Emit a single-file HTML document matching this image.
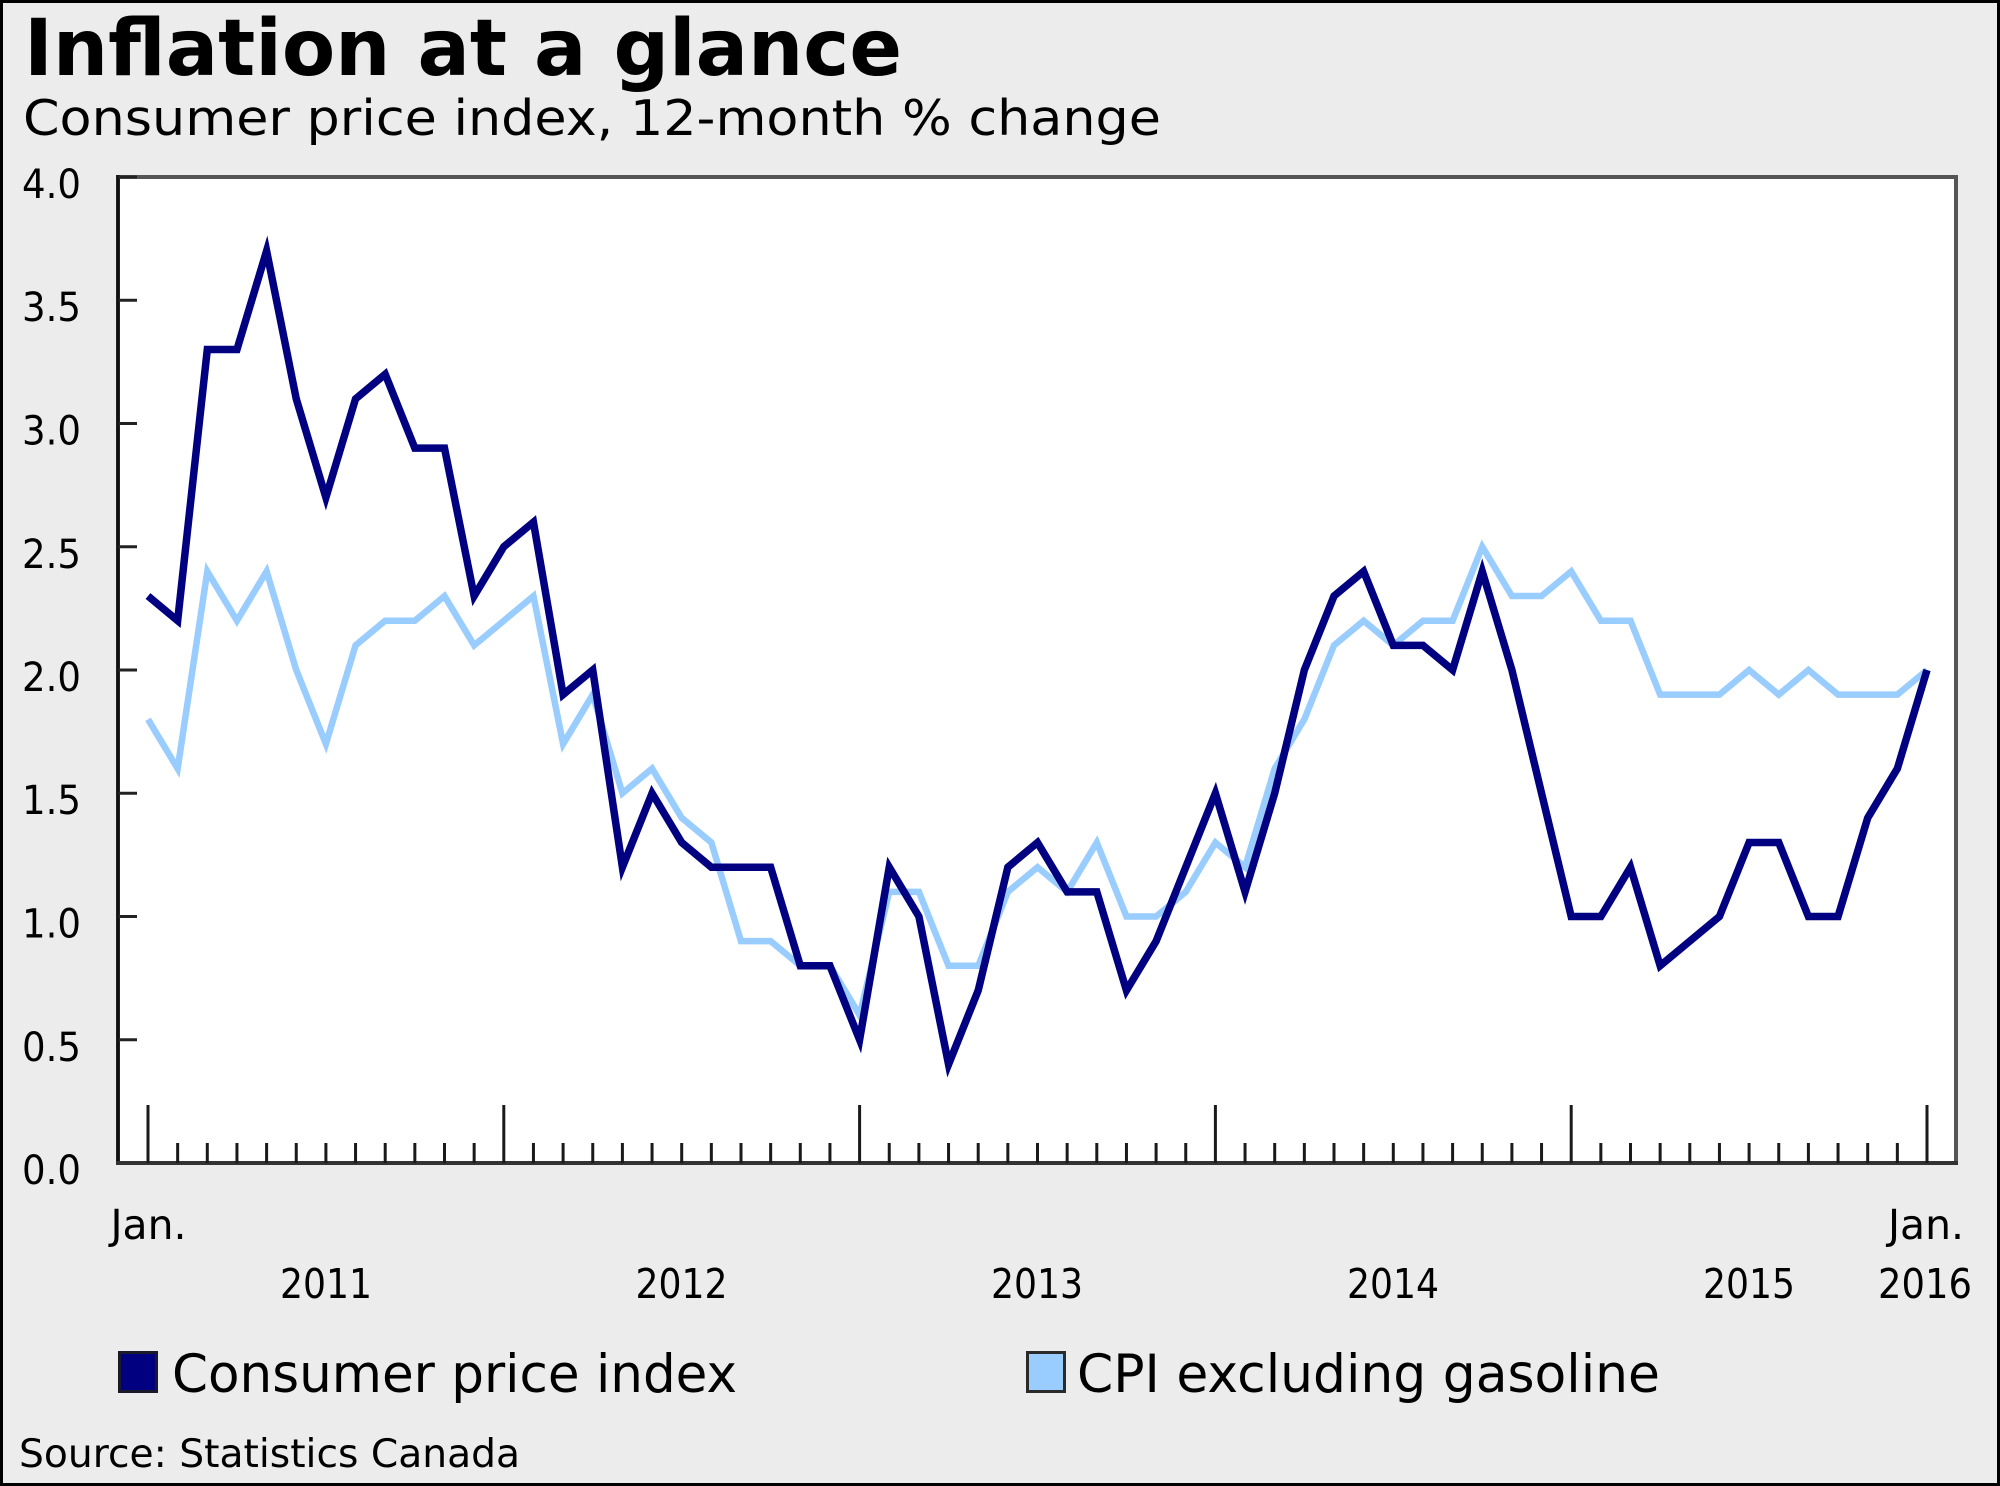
<!DOCTYPE html>
<html>
<head>
<meta charset="utf-8">
<style>
  html, body { margin: 0; padding: 0; background: #ececec; }
  svg { display: block; }
  text { font-family: "DejaVu Sans", "Liberation Sans", sans-serif; fill: #000; }
</style>
</head>
<body>
<svg width="2000" height="1486" viewBox="0 0 2000 1486" xmlns="http://www.w3.org/2000/svg">
  <!-- outer border + background -->
  <rect x="0" y="0" width="2000" height="1486" fill="#000"/>
  <rect x="3" y="3" width="1994" height="1480" fill="#ececec"/>

  <!-- titles -->
  <text x="24" y="75" font-size="78" font-weight="bold" textLength="878" lengthAdjust="spacingAndGlyphs">Inflation at a glance</text>
  <text x="23" y="135" font-size="49" textLength="1138" lengthAdjust="spacingAndGlyphs">Consumer price index, 12-month % change</text>

  <!-- plot area -->
  <rect x="118" y="177" width="1838" height="986" fill="#fff" stroke="#555" stroke-width="4"/>
  <line x1="118" y1="175" x2="118" y2="1165" stroke="#111" stroke-width="3.5"/>
  <line x1="116" y1="1163" x2="1958" y2="1163" stroke="#333" stroke-width="4"/>

  <!-- y ticks -->
  <g stroke="#222" stroke-width="3">
    <line x1="118" y1="177" x2="137" y2="177"/>
    <line x1="118" y1="300.25" x2="137" y2="300.25"/>
    <line x1="118" y1="423.5" x2="137" y2="423.5"/>
    <line x1="118" y1="546.75" x2="137" y2="546.75"/>
    <line x1="118" y1="670" x2="137" y2="670"/>
    <line x1="118" y1="793.25" x2="137" y2="793.25"/>
    <line x1="118" y1="916.5" x2="137" y2="916.5"/>
    <line x1="118" y1="1039.75" x2="137" y2="1039.75"/>
  </g>

  <!-- y labels -->
  <g font-size="40">
    <text x="22" y="198" textLength="59" lengthAdjust="spacingAndGlyphs">4.0</text>
    <text x="22" y="321" textLength="59" lengthAdjust="spacingAndGlyphs">3.5</text>
    <text x="22" y="444.5" textLength="59" lengthAdjust="spacingAndGlyphs">3.0</text>
    <text x="22" y="568" textLength="59" lengthAdjust="spacingAndGlyphs">2.5</text>
    <text x="22" y="691" textLength="59" lengthAdjust="spacingAndGlyphs">2.0</text>
    <text x="22" y="814" textLength="59" lengthAdjust="spacingAndGlyphs">1.5</text>
    <text x="22" y="937.5" textLength="59" lengthAdjust="spacingAndGlyphs">1.0</text>
    <text x="22" y="1061" textLength="59" lengthAdjust="spacingAndGlyphs">0.5</text>
    <text x="22" y="1184" textLength="59" lengthAdjust="spacingAndGlyphs">0.0</text>
  </g>

  <!-- x ticks -->
  <g stroke="#1a1a1a" stroke-width="3">
    <line x1="148" y1="1105" x2="148" y2="1163"/>
    <line x1="503.8" y1="1105" x2="503.8" y2="1163"/>
    <line x1="859.6" y1="1105" x2="859.6" y2="1163"/>
    <line x1="1215.4" y1="1105" x2="1215.4" y2="1163"/>
    <line x1="1571.2" y1="1105" x2="1571.2" y2="1163"/>
    <line x1="1927" y1="1105" x2="1927" y2="1163"/>
  </g>
  <g stroke="#1a1a1a" stroke-width="3" transform="translate(148,0)">
    <path d="M29.65 1143V1163M59.3 1143V1163M88.95 1143V1163M118.6 1143V1163M148.25 1143V1163M177.9 1143V1163M207.55 1143V1163M237.2 1143V1163M266.85 1143V1163M296.5 1143V1163M326.15 1143V1163
             M385.45 1143V1163M415.1 1143V1163M444.75 1143V1163M474.4 1143V1163M504.05 1143V1163M533.7 1143V1163M563.35 1143V1163M593 1143V1163M622.65 1143V1163M652.3 1143V1163M681.95 1143V1163
             M741.25 1143V1163M770.9 1143V1163M800.55 1143V1163M830.2 1143V1163M859.85 1143V1163M889.5 1143V1163M919.15 1143V1163M948.8 1143V1163M978.45 1143V1163M1008.1 1143V1163M1037.75 1143V1163
             M1097.05 1143V1163M1126.7 1143V1163M1156.35 1143V1163M1186 1143V1163M1215.65 1143V1163M1245.3 1143V1163M1274.95 1143V1163M1304.6 1143V1163M1334.25 1143V1163M1363.9 1143V1163M1393.55 1143V1163
             M1452.85 1143V1163M1482.5 1143V1163M1512.15 1143V1163M1541.8 1143V1163M1571.45 1143V1163M1601.1 1143V1163M1630.75 1143V1163M1660.4 1143V1163M1690.05 1143V1163M1719.7 1143V1163M1749.35 1143V1163"/>
  </g>

  <!-- series -->
  <g transform="translate(148,1163) scale(29.65,-246.5)">
    <polyline fill="none" stroke="#99ccff" stroke-width="6.5" vector-effect="non-scaling-stroke" stroke-linejoin="miter" stroke-miterlimit="10"
      points="0,1.8 1,1.6 2,2.4 3,2.2 4,2.4 5,2.0 6,1.7 7,2.1 8,2.2 9,2.2 10,2.3 11,2.1 12,2.2 13,2.3 14,1.7 15,1.9 16,1.5 17,1.6 18,1.4 19,1.3 20,0.9 21,0.9 22,0.8 23,0.8 24,0.6 25,1.1 26,1.1 27,0.8 28,0.8 29,1.1 30,1.2 31,1.1 32,1.3 33,1.0 34,1.0 35,1.1 36,1.3 37,1.2 38,1.6 39,1.8 40,2.1 41,2.2 42,2.1 43,2.2 44,2.2 45,2.5 46,2.3 47,2.3 48,2.4 49,2.2 50,2.2 51,1.9 52,1.9 53,1.9 54,2.0 55,1.9 56,2.0 57,1.9 58,1.9 59,1.9 60,2.0"/>
    <polyline fill="none" stroke="#000080" stroke-width="7.5" vector-effect="non-scaling-stroke" stroke-linejoin="miter" stroke-miterlimit="10"
      points="0,2.3 1,2.2 2,3.3 3,3.3 4,3.7 5,3.1 6,2.7 7,3.1 8,3.2 9,2.9 10,2.9 11,2.3 12,2.5 13,2.6 14,1.9 15,2.0 16,1.2 17,1.5 18,1.3 19,1.2 20,1.2 21,1.2 22,0.8 23,0.8 24,0.5 25,1.2 26,1.0 27,0.4 28,0.7 29,1.2 30,1.3 31,1.1 32,1.1 33,0.7 34,0.9 35,1.2 36,1.5 37,1.1 38,1.5 39,2.0 40,2.3 41,2.4 42,2.1 43,2.1 44,2.0 45,2.4 46,2.0 47,1.5 48,1.0 49,1.0 50,1.2 51,0.8 52,0.9 53,1.0 54,1.3 55,1.3 56,1.0 57,1.0 58,1.4 59,1.6 60,2.0"/>
  </g>

  <!-- x labels -->
  <g font-size="41" text-anchor="middle">
    <text x="148.5" y="1239" textLength="76" lengthAdjust="spacingAndGlyphs">Jan.</text>
    <text x="1926" y="1239" textLength="76" lengthAdjust="spacingAndGlyphs">Jan.</text>
    <text x="326" y="1298" textLength="92" lengthAdjust="spacingAndGlyphs">2011</text>
    <text x="681.5" y="1298" textLength="92" lengthAdjust="spacingAndGlyphs">2012</text>
    <text x="1037" y="1298" textLength="92" lengthAdjust="spacingAndGlyphs">2013</text>
    <text x="1393" y="1298" textLength="92" lengthAdjust="spacingAndGlyphs">2014</text>
    <text x="1749" y="1298" textLength="92" lengthAdjust="spacingAndGlyphs">2015</text>
    <text x="1925" y="1298" textLength="94" lengthAdjust="spacingAndGlyphs">2016</text>
  </g>

  <!-- legend -->
  <rect x="119.5" y="1352.5" width="37" height="39" fill="#000080" stroke="#1a1a2a" stroke-width="3"/>
  <text x="172" y="1392" font-size="53" textLength="565" lengthAdjust="spacingAndGlyphs">Consumer price index</text>
  <rect x="1027.5" y="1352.5" width="37" height="39" fill="#99ccff" stroke="#2a2a2a" stroke-width="3"/>
  <text x="1077" y="1392" font-size="53" textLength="583" lengthAdjust="spacingAndGlyphs">CPI excluding gasoline</text>

  <!-- source -->
  <text x="19" y="1467" font-size="39" textLength="501" lengthAdjust="spacingAndGlyphs">Source: Statistics Canada</text>
</svg>
</body>
</html>
